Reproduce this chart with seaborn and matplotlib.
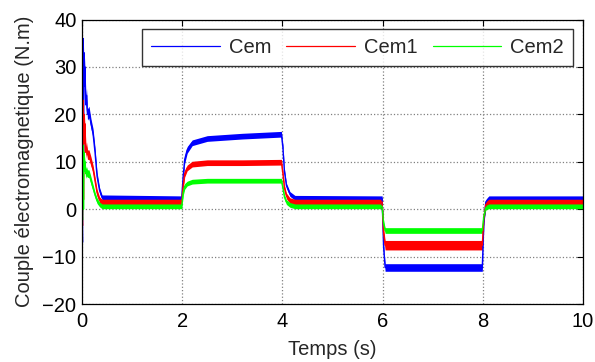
import numpy as np
import pandas as pd
import seaborn as sns
import matplotlib
matplotlib.use("Agg")
import matplotlib.pyplot as plt

# time breakpoints (s), shared by the three torque signals
temps = [0, 0.01, 0.02, 0.03, 0.04, 0.05, 0.06, 0.075, 0.09, 0.11,
         0.14, 0.18, 0.22, 0.26, 0.3, 0.35, 0.4,
         1.99, 2.02, 2.05, 2.1, 2.2, 2.5, 3.2, 3.98,
         4.01, 4.04, 4.08, 4.15, 4.25,
         5.99, 6.02, 6.05,
         7.99, 8.02, 8.06, 8.12, 10.0]

# mean torque (N.m)
cem = [0, -7, 36, 10, 33, 26, 30, 22, 24, 20,
       20.5, 18, 16, 12, 7, 4, 2.5,
       2.3, 7, 10.5, 12.5, 14, 14.9, 15.4, 15.8,
       13, 8, 5, 3.2, 2.4,
       2.3, -8, -12.3,
       -12.3, -3, 1.5, 2.3, 2.3]
cem1 = [0, -3.5, 23, 2, 20, 14, 18, 12, 13, 11.5,
        11.5, 10, 8.5, 6, 3.5, 2, 1.5,
        1.5, 5, 7.5, 8.7, 9.5, 9.8, 9.8, 9.9,
        7.5, 4.5, 2.8, 1.8, 1.5,
        1.5, -5, -7.6,
        -7.6, -2, 1, 1.5, 1.5]
cem2 = [0, -2.3, 13.5, 0, 12, 8, 10, 7.5, 8, 7.5,
        7.5, 6, 4.5, 3, 1.8, 1, 0.6,
        0.6, 3.5, 4.8, 5.4, 5.8, 6.0, 6.0, 6.0,
        4.5, 2.6, 1.5, 0.9, 0.6,
        0.6, -3, -4.5,
        -4.5, -1.5, 0.3, 0.6, 0.6]

# half width of the ripple band around each signal
rip_cem = [0, 0, 0, 0, 1.5, 2, 2, 1.5, 1.5, 1.2,
           1.2, 1, 1, 1, 0.8, 0.6, 0.5,
           0.5, 0.8, 0.8, 0.7, 0.6, 0.6, 0.6, 0.6,
           0.6, 0.6, 0.5, 0.5, 0.5,
           0.5, 0.8, 0.8,
           0.8, 0.6, 0.5, 0.5, 0.5]
rip_cem1 = [0, 0, 0, 0, 1.5, 1.5, 1.5, 1.2, 1.2, 1,
            1, 1, 0.8, 0.8, 0.7, 0.6, 0.6,
            0.6, 0.7, 0.7, 0.6, 0.6, 0.6, 0.6, 0.6,
            0.6, 0.6, 0.6, 0.6, 0.6,
            0.6, 1.0, 1.0,
            1.0, 0.6, 0.6, 0.6, 0.6]
rip_cem2 = [0, 0, 0, 0, 1.2, 1.2, 1.2, 1, 1, 0.8,
            0.8, 0.8, 0.7, 0.6, 0.6, 0.5, 0.5,
            0.5, 0.6, 0.6, 0.5, 0.5, 0.5, 0.5, 0.5,
            0.5, 0.5, 0.5, 0.5, 0.5,
            0.5, 0.6, 0.6,
            0.6, 0.5, 0.5, 0.5, 0.5]

series = [("Cem", cem, rip_cem, "#0000ff"),
          ("Cem1", cem1, rip_cem1, "#ff0000"),
          ("Cem2", cem2, rip_cem2, "#00ff00")]

sns.set_style("white")
plt.rcParams["font.family"] = ["Liberation Sans", "DejaVu Sans"]
plt.rcParams["font.size"] = 14.5
plt.rcParams["path.simplify"] = False

fig = plt.figure(figsize=(5.95, 3.62), dpi=100)
ax = fig.add_axes([82 / 595, 1 - 304 / 362, 501 / 595, 284.5 / 362])

for name, vals, rip, col in series:
    df = pd.DataFrame({"t": temps, "v": vals})
    lo = np.array(vals) - np.array(rip)
    hi = np.array(vals) + np.array(rip)
    ax.fill_between(temps, lo, hi, color=col, linewidth=0)
    sns.lineplot(data=df, x="t", y="v", color=col, linewidth=1, ax=ax,
                 label=name, sort=False)

ax.set_xlim(0, 10)
ax.set_ylim(-20, 40)
ax.set_xticks([0, 2, 4, 6, 8, 10])
ax.set_yticks([-20, -10, 0, 10, 20, 30, 40])
ax.grid(True, linestyle=":", color="#808080", linewidth=0.9)
ax.tick_params(direction="in", length=4, width=0.8, top=True, right=True,
               labelsize=14.5, colors="black")
ax.tick_params(axis="x", pad=6)
ax.tick_params(axis="y", pad=4)
for sp in ax.spines.values():
    sp.set_color("black")
    sp.set_linewidth(0.9)

ax.set_xlabel("Temps (s)", fontsize=14.5, labelpad=6)
ax.set_ylabel("Couple électromagnetique (N.m)", fontsize=14.5, labelpad=6)

leg = ax.legend(loc="upper right", bbox_to_anchor=(0.98, 0.966), ncol=3,
                frameon=True, fancybox=False, fontsize=14.5, handlelength=3.4,
                handletextpad=0.45, columnspacing=0.75, borderpad=0.45,
                borderaxespad=0)
leg.get_frame().set_edgecolor("black")
leg.get_frame().set_linewidth(1.0)
for h in leg.get_lines():
    h.set_linewidth(0.9)

fig.savefig("out.png", dpi=100)
